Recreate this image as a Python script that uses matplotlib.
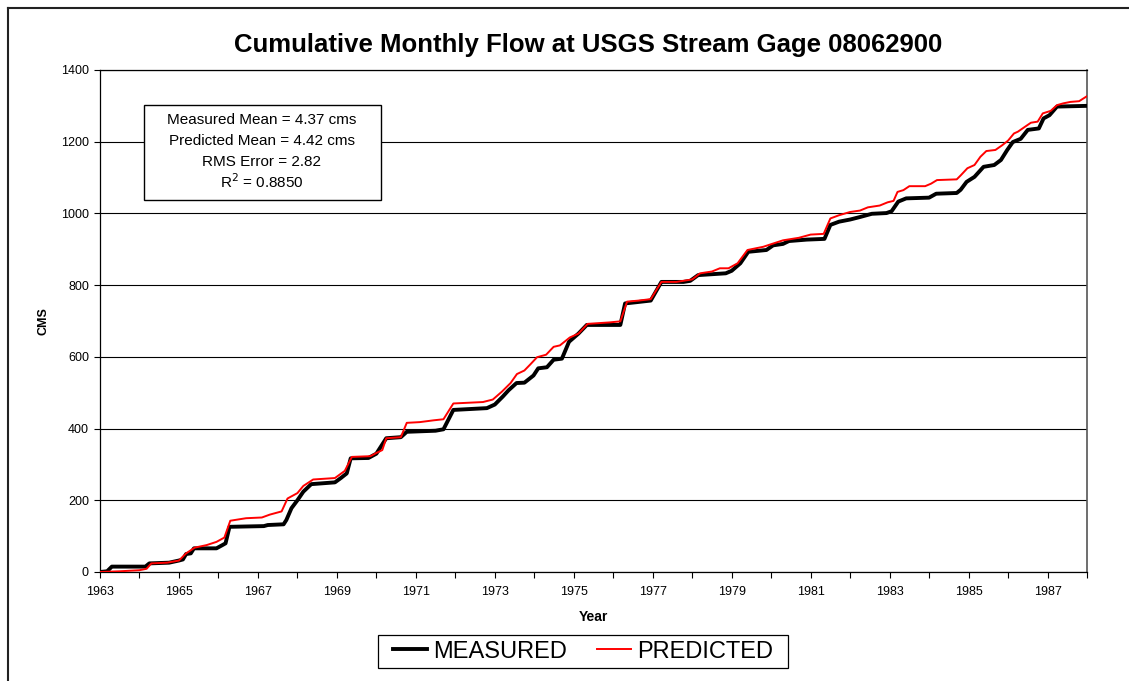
import matplotlib
matplotlib.use("Agg")
import matplotlib.pyplot as plt
from matplotlib.lines import Line2D
from matplotlib.patches import Rectangle

plt.rcParams['font.family'] = ['Liberation Sans', 'DejaVu Sans']

# Measured cumulative flow (decimal year, cms)
meas_year = [1963.00, 1963.18, 1963.30, 1964.15, 1964.25, 1964.75, 1965.00, 1965.10, 1965.18, 1965.30,
             1965.38, 1965.95, 1966.10, 1966.18, 1966.28, 1967.15, 1967.25, 1967.65, 1967.72, 1967.85,
             1968.00, 1968.15, 1968.35, 1968.95, 1969.10, 1969.25, 1969.35, 1969.80, 1970.00, 1970.25,
             1970.62, 1970.77, 1971.50, 1971.70, 1971.95, 1972.80, 1973.00, 1973.20, 1973.35, 1973.55,
             1973.75, 1973.98, 1974.10, 1974.32, 1974.49, 1974.70, 1974.88, 1975.12, 1975.33, 1976.18,
             1976.30, 1976.55, 1976.95, 1977.22, 1977.78, 1977.95, 1978.15, 1978.85, 1979.00, 1979.22,
             1979.42, 1979.88, 1980.05, 1980.30, 1980.45, 1980.90, 1981.35, 1981.50, 1981.72, 1982.00,
             1982.25, 1982.55, 1982.92, 1983.05, 1983.22, 1983.42, 1984.00, 1984.18, 1984.70, 1984.80,
             1984.95, 1985.15, 1985.38, 1985.65, 1985.82, 1985.98, 1986.12, 1986.32, 1986.50, 1986.78,
             1986.90, 1987.05, 1987.24, 1988.00]
meas_cms = [0, 2, 15, 15, 24, 26, 32, 35, 50, 52,
            66, 66, 75, 80, 126, 128, 131, 133, 145, 178,
            200, 224, 245, 250, 262, 275, 317, 318, 330, 373,
            376, 391, 394, 398, 452, 457, 467, 489, 507, 527,
            528, 548, 568, 571, 592, 595, 642, 665, 689, 689,
            749, 752, 757, 809, 809, 812, 828, 833, 840, 861,
            893, 898, 911, 915, 923, 927, 929, 968, 977, 983,
            990, 999, 1001, 1006, 1033, 1042, 1044, 1055, 1057, 1066,
            1088, 1102, 1130, 1135, 1149, 1177, 1199, 1208, 1233, 1237,
            1265, 1274, 1298, 1300]

# Predicted cumulative flow (decimal year, cms)
pred_year = [1963.00, 1963.50, 1964.00, 1964.18, 1964.30, 1964.70, 1965.00, 1965.18, 1965.40, 1965.70,
             1965.95, 1966.15, 1966.30, 1966.70, 1967.10, 1967.30, 1967.60, 1967.75, 1968.00, 1968.15,
             1968.40, 1968.95, 1969.20, 1969.38, 1969.85, 1970.00, 1970.15, 1970.25, 1970.62, 1970.77,
             1971.10, 1971.45, 1971.70, 1971.95, 1972.70, 1972.95, 1973.18, 1973.40, 1973.56, 1973.75,
             1973.90, 1974.07, 1974.30, 1974.49, 1974.65, 1974.90, 1975.12, 1975.35, 1975.90, 1976.18,
             1976.35, 1976.65, 1976.95, 1977.22, 1977.60, 1978.00, 1978.20, 1978.50, 1978.70, 1978.92,
             1979.15, 1979.40, 1979.80, 1980.05, 1980.30, 1980.70, 1981.00, 1981.33, 1981.50, 1981.72,
             1982.00, 1982.25, 1982.45, 1982.75, 1982.95, 1983.10, 1983.20, 1983.35, 1983.50, 1983.90,
             1984.05, 1984.20, 1984.70, 1984.80, 1984.97, 1985.15, 1985.30, 1985.45, 1985.68, 1985.85,
             1986.00, 1986.15, 1986.25, 1986.42, 1986.58, 1986.75, 1986.88, 1987.08, 1987.24, 1987.40,
             1987.58, 1987.80, 1988.00]
pred_cms = [0, 2, 5, 9, 24, 26, 32, 52, 68, 75,
            84, 96, 143, 150, 152, 160, 169, 205, 220, 240,
            258, 262, 282, 321, 323, 332, 340, 373, 376, 416,
            418, 423, 426, 470, 474, 481, 503, 527, 552, 562,
            579, 599, 606, 628, 632, 654, 665, 692, 696, 699,
            754, 757, 761, 809, 809, 816, 833, 838, 847, 847,
            861, 898, 907, 916, 925, 932, 941, 943, 986, 995,
            1004, 1008, 1017, 1022, 1031, 1035, 1060, 1065, 1076, 1076,
            1083, 1093, 1095, 1106, 1126, 1135, 1158, 1174, 1177, 1190,
            1203, 1223, 1228, 1241, 1253, 1256, 1279, 1286, 1302, 1307,
            1311, 1313, 1327]

year_ticks = list(range(1963, 1989))
year_labels = [str(y) if (y - 1963) % 2 == 0 and y < 1988 else "" for y in year_ticks]
cms_ticks = [0, 200, 400, 600, 800, 1000, 1200, 1400]

stats_lines = ["Measured Mean = 4.37 cms", "Predicted Mean = 4.42 cms",
               "RMS Error = 2.82", "R$^2$ = 0.8850"]

W, H = 1129, 681
fig = plt.figure(figsize=(W / 100, H / 100), dpi=100)
ax = fig.add_axes([100 / W, (H - 572) / H, (1087 - 100) / W, (572 - 70) / H])

ax.plot(meas_year, meas_cms, color='black', lw=2.8, solid_joinstyle='round', label='MEASURED', zorder=3)
ax.plot(pred_year, pred_cms, color='#ff0000', lw=1.4, label='PREDICTED', zorder=4)

ax.set_xlim(1963, 1988)
ax.set_ylim(0, 1400)
ax.set_xticks(year_ticks)
ax.set_xticklabels(year_labels)
ax.set_yticks(cms_ticks)
ax.tick_params(axis='both', direction='out', length=4, width=0.8, labelsize=9, colors='black')
ax.tick_params(axis='x', pad=6)
ax.tick_params(axis='y', pad=4)
ax.yaxis.grid(True, color='black', lw=0.8)
ax.set_axisbelow(True)
for s in ax.spines.values():
    s.set_color('black')
    s.set_linewidth(0.9)
ax.spines['right'].set_color('#555555')
ax.spines['right'].set_linewidth(1.2)

ax.set_xlabel('Year', fontsize=10, fontweight='bold', labelpad=9)
ax.set_ylabel('CMS', fontsize=9, fontweight='bold', labelpad=8)

fig.text(588 / W, 1 - 45 / H, 'Cumulative Monthly Flow at USGS Stream Gage 08062900',
         ha='center', va='center', fontsize=18.5, fontweight='bold')

# statistics box
fig.add_artist(Rectangle((144 / W, 1 - 200 / H), (381 - 144) / W, (200 - 105) / H,
                         transform=fig.transFigure, fc='white', ec='black', lw=1.0, zorder=5))
for line, ypix in zip(stats_lines, [120, 141, 161.5, 182]):
    fig.text(262 / W, 1 - ypix / H, line, ha='center', va='center', fontsize=11, zorder=6)

# legend frame + legend
fig.add_artist(Rectangle((378 / W, 1 - 668 / H), (788 - 378) / W, (668 - 635) / H,
                         transform=fig.transFigure, fc='white', ec='black', lw=0.9, zorder=1))
leg = fig.legend(loc='center', bbox_to_anchor=(583 / W, 1 - 651.5 / H), ncol=2, fontsize=17,
                 frameon=False, handlelength=1.45,
                 handletextpad=0.25, columnspacing=1.25, borderpad=0.15, borderaxespad=0)

# outer chart border (top and left)
fig.add_artist(Line2D([8 / W, 1.0], [1 - 8 / H, 1 - 8 / H], transform=fig.transFigure, color='#222222', lw=1.5))
fig.add_artist(Line2D([8 / W, 8 / W], [1 - 8 / H, 0], transform=fig.transFigure, color='#222222', lw=1.5))

fig.savefig('out.png', dpi=100, facecolor='white')
